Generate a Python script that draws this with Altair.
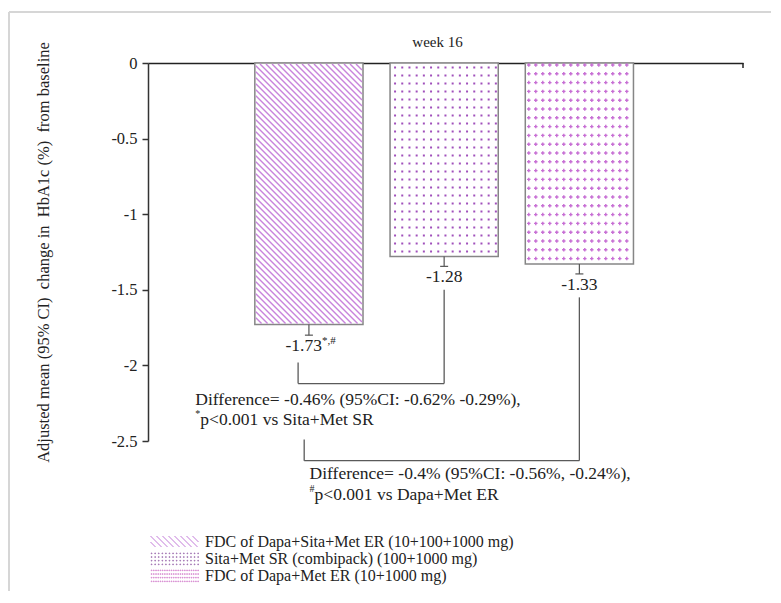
import altair as alt
import numpy as np
import pandas as pd

# ---------------- data ----------------
groups = [
    "FDC of Dapa+Sita+Met ER (10+100+1000 mg)",
    "Sita+Met SR (combipack) (100+1000 mg)",
    "FDC of Dapa+Met ER (10+1000 mg)",
]
means = [-1.73, -1.28, -1.33]
ci_low = [-1.80, -1.345, -1.395]
value_labels = ["-1.73", "-1.28", "-1.33"]
value_marks = ["*,#", "", ""]
y_ticks = [0, -0.5, -1, -1.5, -2, -2.5]
comparisons = [(0, 1), (0, 2)]
diff_text = [
    "Difference= -0.46% (95%CI: -0.62% -0.29%),",
    "Difference= -0.4% (95%CI: -0.56%, -0.24%),",
]
p_marks = ["*", "#"]
p_text = ["p<0.001 vs Sita+Met SR", "p<0.001 vs Dapa+Met ER"]
x_title = "week 16"
y_title = "Adjusted mean (95% CI) \u00a0change in \u00a0HbA1c (%) \u00a0from baseline"

# ---------------- layout / style ----------------
SERIF = "Liberation Serif"
W, H = 595, 378
X_MAX = 4.4
Y_MIN = -2.5
KX = W / X_MAX
KY = H / -Y_MIN
FIRST_POS = 1.19
HALF = 0.4
pos = [FIRST_POS + i for i in range(len(groups))]

bracket_left_dx = [-0.08, -0.035]
bracket_left_top = [-1.98, -2.49]
bracket_bottom = [-2.12, -2.63]
bracket_right_gap = 0.155
text_x = [0.35, 1.195]
text_y1 = [-2.23, -2.72]
text_y2 = [-2.36, -2.86]

bars = pd.DataFrame({
    "group": groups,
    "pos": pos,
    "x0": [p - HALF for p in pos],
    "x1": [p + HALF for p in pos],
    "mean": means,
    "ci_low": ci_low,
    "label": value_labels,
    "mark": value_marks,
    "cap0": [p - 4 / KX for p in pos],
    "cap1": [p + 4 / KX for p in pos],
    "zero": [0.0] * len(groups),
})


def hatch(i, step=6.0, inset=1.0):
    xa = (pos[i] - HALF) * KX + inset
    xb = (pos[i] + HALF) * KX - inset
    ya = inset
    yb = -means[i] * KY - inset
    rows = []
    c = ya - xb
    while c < yb - xa:
        x0 = max(xa, ya - c)
        x1 = min(xb, yb - c)
        if x1 > x0:
            rows.append({"x": x0 / KX, "y": -(x0 + c) / KY,
                         "x2": x1 / KX, "y2": -(x1 + c) / KY})
        c += step
    return pd.DataFrame(rows)


def dots(i, sx, sy, ox, oy):
    xa = (pos[i] - HALF) * KX
    xb = (pos[i] + HALF) * KX
    h = -means[i] * KY
    xs_ = np.arange(xa + ox, xb - 2, sx)
    ys_ = np.arange(oy, h - 2, sy)
    return pd.DataFrame([{"x": x / KX, "y": -y / KY} for y in ys_ for x in xs_])


LH = 5.5 / 24


def hatch_path(step=0.25):
    parts = []
    c = -LH - 1
    while c < LH + 1:
        x0 = max(-1, -LH - c)
        x1 = min(1, LH - c)
        if x1 > x0:
            parts.append(f"M{x0:.3f},{x0 + c:.3f}L{x1:.3f},{x1 + c:.3f}")
        c += step
    return "".join(parts)


def dot_path(nx, rows, d=0.03):
    parts = []
    for yy in rows:
        for xx in np.linspace(-0.97, 0.97, nx):
            parts.append(f"M{xx:.3f},{yy:.3f}h{d}v{d}h{-d}Z")
    return "".join(parts)


legend_rows = [-LH, -LH / 3, LH / 3, LH]
legend_paths = [hatch_path(), dot_path(14, legend_rows), dot_path(22, legend_rows)]
legend_colors = ["#c27ad8", "#9f70b0", "#d68ad0"]

xs = alt.Scale(domain=[0, X_MAX], nice=False, zero=False)
ys = alt.Scale(domain=[Y_MIN, 0], nice=False, zero=False)

x_axis = alt.Axis(orient="top", ticks=False, labels=False, grid=False,
                  domainColor="#222", domainWidth=1.5, title=x_title,
                  titleFont=SERIF, titleFontSize=15, titleFontWeight="normal",
                  titleColor="#222", titlePadding=14, titleX=289)
y_axis = alt.Axis(values=y_ticks, title=y_title, titleFont=SERIF, titleFontSize=16.5,
                  titleFontWeight="normal", titleColor="#222", titleX=-97,
                  labelFont=SERIF, labelFontSize=16.5, labelColor="#222", labelPadding=5,
                  tickSize=6, tickColor="#333", tickWidth=1.5, domainColor="#333",
                  domainWidth=1.5, grid=False,
                  labelExpr="datum.value == 0 ? '0' : '-' + format(-datum.value, '')")


def X(field):
    return alt.X(field, type="quantitative", scale=xs, axis=x_axis, title=x_title)


def Y(field):
    return alt.Y(field, type="quantitative", scale=ys, axis=y_axis, title=y_title)


base = alt.Chart(bars)

bar_layer = base.mark_rect(fill="white", stroke="#868686", strokeWidth=1.5).encode(
    x=X("x0"), x2="x1", y=Y("mean"), y2="zero")

hatch_layer = alt.Chart(hatch(0)).mark_rule(color="#c884dc", strokeWidth=1.4).encode(
    x=X("x"), y=Y("y"), x2="x2", y2="y2")

dots2 = alt.Chart(dots(1, 7.2, 8.0, 5.0, 4.5)).mark_point(
    shape="square", filled=True, size=4, color="#a050bb", opacity=1).encode(
    x=X("x"), y=Y("y"))

dots3 = alt.Chart(dots(2, 7.0, 8.8, 3.5, 2.0)).mark_point(
    shape="cross", filled=True, size=12, color="#c15fcf", opacity=0.9).encode(
    x=X("x"), y=Y("y"))

err_stem = base.mark_rule(color="#555", strokeWidth=1.2).encode(
    x=X("pos"), y=Y("mean"), y2="ci_low")
err_cap = base.mark_rule(color="#555", strokeWidth=1.2).encode(
    x=X("cap0"), x2="cap1", y=Y("ci_low"))

lab_plain = base.transform_filter("datum.mark == ''").mark_text(
    font=SERIF, fontSize=17.5, color="#222", baseline="top", dy=2).encode(
    x=X("pos"), y=Y("ci_low"), text="label:N")
lab_marked = base.transform_filter("datum.mark != ''").mark_text(
    font=SERIF, fontSize=17.5, color="#222", baseline="top", align="right", dx=13, dy=2).encode(
    x=X("pos"), y=Y("ci_low"), text="label:N")
lab_sup = base.transform_filter("datum.mark != ''").mark_text(
    font=SERIF, fontSize=11, color="#222", baseline="top", align="left", dx=13, dy=0).encode(
    x=X("pos"), y=Y("ci_low"), text="mark:N")

# brackets
br_rows = []
for k, (a, b) in enumerate(comparisons):
    lx = pos[a] + bracket_left_dx[k]
    rx = pos[b]
    yb = bracket_bottom[k]
    br_rows.append({"x": lx, "x2": lx, "y": bracket_left_top[k], "y2": yb})
    br_rows.append({"x": lx, "x2": rx, "y": yb, "y2": yb})
    br_rows.append({"x": rx, "x2": rx, "y": ci_low[b] - bracket_right_gap, "y2": yb})
brackets = alt.Chart(pd.DataFrame(br_rows)).mark_rule(color="#5a5a5a", strokeWidth=1.3).encode(
    x=X("x"), x2="x2", y=Y("y"), y2="y2")

notes = pd.DataFrame({"x": text_x, "y1": text_y1, "y2": text_y2,
                      "diff": diff_text, "pm": p_marks, "pt": p_text})
nbase = alt.Chart(notes)
note1 = nbase.mark_text(font=SERIF, fontSize=17.5, color="#222", align="left", baseline="middle").encode(
    x=X("x"), y=Y("y1"), text="diff:N")
note_pm = nbase.mark_text(font=SERIF, fontSize=10, color="#222", align="left",
                          baseline="middle", dy=-6).encode(
    x=X("x"), y=Y("y2"), text="pm:N")
note2 = nbase.mark_text(font=SERIF, fontSize=17.5, color="#222", align="left",
                        baseline="middle", dx=5).encode(
    x=X("x"), y=Y("y2"), text="pt:N")

end_tick = alt.Chart(pd.DataFrame({"x": [X_MAX], "y0": [0.0], "y1": [-5 / KY]})).mark_rule(
    color="#222", strokeWidth=1.5).encode(x=X("x"), y=Y("y0"), y2="y1")

frame_left = alt.Chart(pd.DataFrame({"k": [0]})).mark_rule(color="#d6d6d6", strokeWidth=2).encode(
    x=alt.value(-139), y=alt.value(-51), y2=alt.value(540))
frame_top = alt.Chart(pd.DataFrame({"k": [0]})).mark_rule(color="#d6d6d6", strokeWidth=2).encode(
    x=alt.value(-139), x2=alt.value(626), y=alt.value(-51))

leg = alt.Legend(title=None, orient="none", legendX=2, legendY=471,
                 symbolSize=2304, symbolStrokeWidth=1, symbolOpacity=1,
                 labelFont=SERIF, labelFontSize=16, labelColor="#222", labelLimit=0,
                 rowPadding=0, padding=0, labelOffset=6, clipHeight=15)
legend_layer = base.mark_point(filled=False, opacity=0).encode(
    x=X("pos"), y=Y("mean"),
    shape=alt.Shape("group:N", scale=alt.Scale(domain=groups, range=legend_paths), legend=leg),
    color=alt.Color("group:N", scale=alt.Scale(domain=groups, range=legend_colors), legend=leg),
)

chart = alt.layer(
    bar_layer, hatch_layer, dots2, dots3,
    err_stem, err_cap, lab_plain, lab_marked, lab_sup,
    brackets, note1, note_pm, note2, end_tick, legend_layer,
    frame_left, frame_top,
).properties(
    width=W, height=H,
    autosize=alt.AutoSizeParams(type="none"),
    padding={"left": 140, "top": 55, "right": 28, "bottom": 150},
    background="white",
).configure_view(stroke=None)

chart.save("out.html", embed_options={"renderer": "svg", "actions": False})
